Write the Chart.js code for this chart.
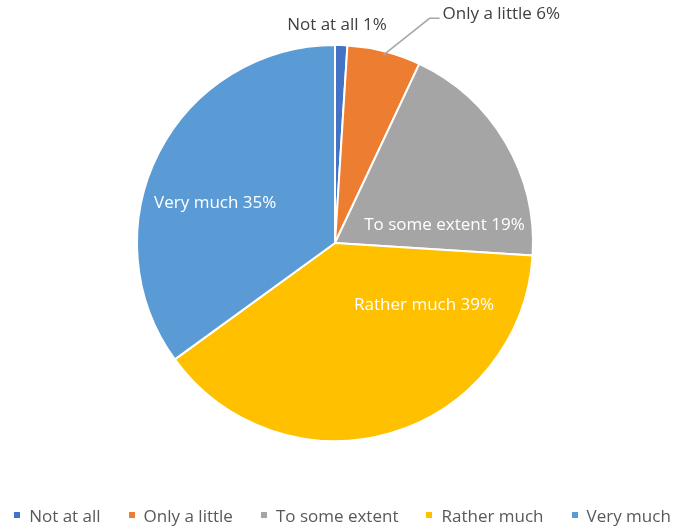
<!DOCTYPE html>
<html>
<head>
<meta charset="utf-8">
<script src="https://cdn.jsdelivr.net/npm/chart.js@4/dist/chart.umd.min.js"></script>
<style>
  html, body { margin: 0; padding: 0; background: #fff; }
  #wrap { position: relative; width: 685px; height: 527px; }
  #legend {
    position: absolute; left: 0; top: 505px; width: 685px; height: 20px;
    display: flex; justify-content: center; align-items: center;
    font-family: "Open Sans", Lato, sans-serif; font-size: 17px; color: #595959;
  }
  #legend .item { display: flex; align-items: center; margin: 0 14px; white-space: nowrap; }
  #legend .box { width: 6px; height: 6px; margin-right: 9px; }
</style>
</head>
<body>
<div id="wrap">
  <canvas id="myChart" width="685" height="527"></canvas>
  <div id="legend"></div>
</div>
<script>
const categories = ["Not at all", "Only a little", "To some extent", "Rather much", "Very much"];
const percentages = [1, 6, 19, 39, 35];
const sliceColors = ["#4472C4", "#ED7D31", "#A5A5A5", "#FFC000", "#5B9BD5"];

// where each data label sits, in radius units from the pie centre
const labelSpots = [
  { x: 0.01, y: -1.10, color: "#404040" },
  { x: 0.84, y: -1.155, color: "#404040", leader: true },
  { x: 0.553, y: -0.09, color: "#ffffff" },
  { x: 0.45, y: 0.315, color: "#ffffff" },
  { x: -0.605, y: -0.20, color: "#ffffff" },
];

const pieLabels = {
  id: "pieLabels",
  afterDatasetsDraw(chart) {
    const ctx = chart.ctx;
    const arcs = chart.getDatasetMeta(0).data;
    ctx.save();
    ctx.font = "17px 'Open Sans', Lato, sans-serif";
    ctx.textBaseline = "middle";
    arcs.forEach((arc, i) => {
      const { x, y, outerRadius, startAngle, endAngle } = arc.getProps(
        ["x", "y", "outerRadius", "startAngle", "endAngle"], true);
      const spot = labelSpots[i];
      const text = categories[i] + " " + percentages[i] + "%";
      const lx = x + spot.x * outerRadius;
      const ly = y + spot.y * outerRadius;
      if (spot.leader) {
        // leader line from the slice edge to the left end of the label
        const mid = (startAngle + endAngle) / 2;
        const w = ctx.measureText(text).width;
        const ex = lx - w / 2 - 3;
        ctx.strokeStyle = "#A6A6A6";
        ctx.lineWidth = 1.5;
        ctx.beginPath();
        ctx.moveTo(x + Math.cos(mid) * (outerRadius - 4), y + Math.sin(mid) * (outerRadius - 4));
        ctx.lineTo(ex - 10, ly + 4);
        ctx.lineTo(ex, ly + 4);
        ctx.stroke();
      }
      ctx.fillStyle = spot.color;
      ctx.textAlign = "center";
      ctx.fillText(text, lx, ly);
    });
    ctx.restore();
  },
};

const legend = document.getElementById("legend");
categories.forEach((name, i) => {
  const item = document.createElement("div");
  item.className = "item";
  item.innerHTML = '<span class="box" style="background:' + sliceColors[i] + '"></span>' + name;
  legend.appendChild(item);
});

new Chart(document.getElementById("myChart"), {
  type: "pie",
  data: {
    labels: categories,
    datasets: [
      {
        data: percentages,
        backgroundColor: sliceColors,
        borderColor: "#ffffff",
        borderWidth: 2,
      },
    ],
  },
  options: {
    responsive: false,
    animation: false,
    events: [],
    layout: { padding: { top: 44, bottom: 85, left: 0, right: 15 } },
    plugins: {
      legend: { display: false },
      tooltip: { enabled: false },
    },
  },
  plugins: [pieLabels],
});
</script>
</body>
</html>
